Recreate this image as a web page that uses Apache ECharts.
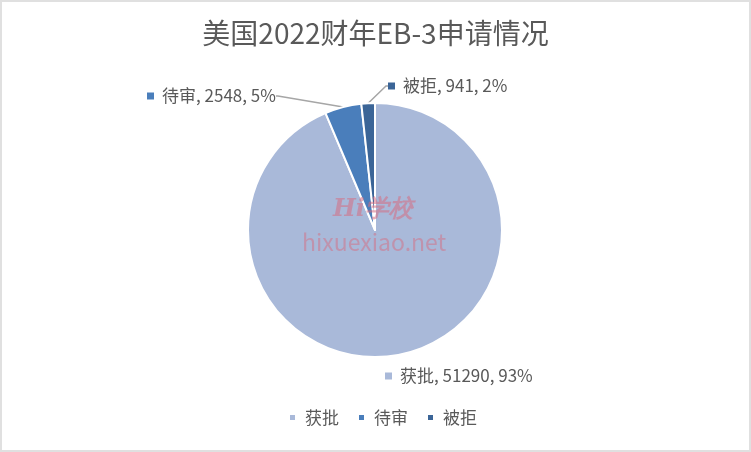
<!DOCTYPE html>
<html>
<head>
<meta charset="utf-8">
<script src="https://cdn.jsdelivr.net/npm/echarts@6/dist/echarts.min.js"></script>
<style>
html,body{margin:0;padding:0;background:#fff;}
#chart{width:751px;height:452px;}
</style>
</head>
<body>
<div id="chart"></div>
<script>
const title = '美国2022财年EB-3申请情况';
const categories = ['获批', '待审', '被拒'];
const values = [51290, 2548, 941];
const colors = ['#A9B9D9', '#4A7EBB', '#3B6597'];
const watermark1 = 'Hi学校';
const watermark2 = 'hixuexiao.net';

const FONT = "'Noto Sans CJK SC', sans-serif";
const TEXT = '#595959';
// label anchor positions (left edge, vertical middle)
const labelPos = [[385, 376], [147, 96], [388, 86]];

const chart = echarts.init(document.getElementById('chart'), null, {renderer: 'canvas'});

const rich = {
  t: {fontSize: 17, color: TEXT, fontFamily: FONT, padding: [0, 0, 0, 8]}
};
colors.forEach((c, i) => {
  rich['sq' + i] = {width: 7, height: 7, backgroundColor: c};
});

const data = categories.map((name, i) => ({
  name: name,
  value: values[i],
  itemStyle: {color: colors[i]},
  labelLine: {show: i !== 0}
}));

chart.setOption({
  backgroundColor: '#ffffff',
  animation: false,
  title: {
    text: title,
    left: 'center',
    top: 14,
    textStyle: {fontSize: 28, fontWeight: 'normal', color: TEXT, fontFamily: FONT}
  },
  legend: {
    data: categories,
    left: 288,
    top: 409,
    padding: 0,
    icon: 'rect',
    itemWidth: 7,
    itemHeight: 7,
    itemGap: 18,
    textStyle: {fontSize: 17, color: TEXT, fontFamily: FONT, padding: [0, 0, 0, 4]}
  },
  graphic: [
    {type: 'rect', silent: true, z: 100,
     shape: {x: 1, y: 1, width: 749, height: 450},
     style: {fill: 'none', stroke: '#E0E0E0', lineWidth: 2}},
    {type: 'text', silent: true, z: 100, left: 333, top: 198,
     style: {text: watermark1, fontSize: 24, fontStyle: 'italic', fontWeight: 'bold',
             fontFamily: "'DejaVu Serif', serif", fill: 'rgba(214,110,130,0.55)'}},
    {type: 'text', silent: true, z: 100, left: 302, top: 231,
     style: {text: watermark2, fontSize: 23, fontFamily: FONT, fill: 'rgba(214,110,130,0.5)'}}
  ],
  series: [{
    type: 'pie',
    center: [375, 230],
    radius: [0, 127],
    startAngle: 90,
    clockwise: true,
    percentPrecision: 0,
    data: data,
    itemStyle: {borderColor: '#ffffff', borderWidth: 2},
    label: {
      show: true,
      position: 'outside',
      formatter: p => `{sq${p.dataIndex}|}{t|${p.name}, ${p.value}, ${p.percent}%}`,
      rich: rich
    },
    labelLine: {show: true, length: 10, length2: 2, lineStyle: {color: '#A6A6A6', width: 1.5}},
    labelLayout: p => ({
      x: labelPos[p.dataIndex][0],
      y: labelPos[p.dataIndex][1],
      align: 'left',
      verticalAlign: 'middle'
    }),
    emphasis: {disabled: true}
  }]
});
</script>
</body>
</html>
